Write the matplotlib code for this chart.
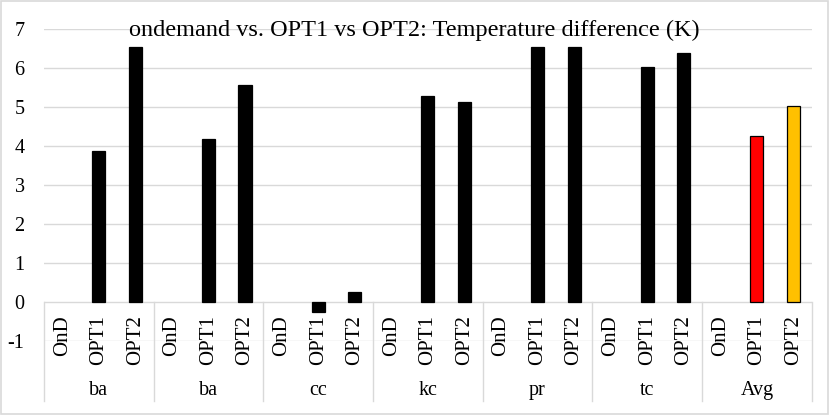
import matplotlib
matplotlib.use("Agg")
import matplotlib.pyplot as plt
from matplotlib.patches import Rectangle

groups = ['ba', 'ba', 'cc', 'kc', 'pr', 'tc', 'Avg']
series = ['OnD', 'OPT1', 'OPT2']
ond = [0, 0, 0, 0, 0, 0, 0]
opt1 = [3.87, 4.17, -0.25, 5.28, 6.52, 6.01, 4.26]
opt2 = [6.52, 5.56, 0.26, 5.13, 6.52, 6.38, 5.03]
yticks = [-1, 0, 1, 2, 3, 4, 5, 6, 7]
title = "ondemand vs. OPT1 vs OPT2: Temperature difference (K)"

plt.rcParams['font.family'] = ['Liberation Serif', 'DejaVu Serif']

fig = plt.figure(figsize=(8.3, 4.15), dpi=100)
ax = fig.add_axes([0.053, 0.1773, 0.925, 0.7537])

n = len(groups)
ax.set_xlim(0, 3 * n)
ax.set_ylim(-1, 7)
grid_c = '#d9d9d9'
for yv in yticks:
    ax.axhline(yv, color=grid_c, lw=1, zorder=0)

values = [ond, opt1, opt2]
for gi in range(n):
    for si in range(3):
        x = gi * 3 + si + 0.5
        v = values[si][gi]
        if gi == n - 1 and si == 1:
            fc = '#ff0000'
        elif gi == n - 1 and si == 2:
            fc = '#ffc000'
        else:
            fc = 'black'
        if v != 0:
            ax.bar(x, v, width=0.36, color=fc, edgecolor='black', lw=0.9, zorder=3)
        ax.text(x, -0.33, series[si], rotation=90, ha='center', va='top',
                fontsize=15, clip_on=False)
    ax.text(gi * 3 + 1.5, -2.26, groups[gi], ha='center', va='center',
            fontsize=14.5, clip_on=False)

for b in range(n + 1):
    ax.plot([b * 3, b * 3], [0, -2.52], color=grid_c, lw=1, clip_on=False, zorder=0)

ax.set_yticks(yticks)
ax.set_yticklabels([str(t) for t in yticks], fontsize=14.5)
ax.tick_params(axis='y', length=0, pad=14)
ax.set_xticks([])
for s in ax.spines.values():
    s.set_visible(False)

fig.text(0.499, 1 - 36 / 415, title, ha='center', va='baseline', fontsize=17.5,
         zorder=5)

fig.patches.append(Rectangle((0.001, 0.002), 0.997, 0.996, transform=fig.transFigure,
                             fill=False, edgecolor=grid_c, lw=1.2))

fig.savefig('out.png', dpi=100)
